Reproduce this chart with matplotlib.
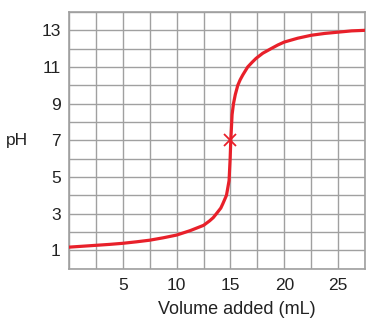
import matplotlib
matplotlib.use('Agg')
import matplotlib.pyplot as plt
import numpy as np

plt.rcParams['font.family'] = ['Liberation Sans', 'DejaVu Sans']

# titration curve
volume = [0, 1.25, 2.5, 3.75, 5, 6.25, 7.5, 8.75, 10, 11.25, 12.5, 13.05, 13.4,
          13.7, 14.1, 14.3, 14.63, 14.87, 14.97, 15.03, 15.15, 15.28, 15.45,
          15.68, 15.9, 16.14, 16.6, 17.0, 17.38, 18.0, 18.77, 19.4, 20, 21.25,
          22.5, 23.75, 25, 26.25, 27.5]
ph = [1.17, 1.22, 1.27, 1.32, 1.38, 1.46, 1.55, 1.68, 1.83, 2.07, 2.36, 2.6, 2.78,
      3.0, 3.3, 3.55, 4.0, 4.8, 6.0, 7.0, 8.4, 9.0, 9.5,
      10.0, 10.3, 10.56, 11.0, 11.25, 11.47, 11.75, 12.0, 12.2, 12.36, 12.57,
      12.73, 12.83, 12.9, 12.97, 13.0]
equiv_volume = [15]
equiv_ph = [7]

x_labels = [5, 10, 15, 20, 25]
y_labels = [1, 3, 5, 7, 9, 11, 13]

fig = plt.figure(figsize=(3.74, 3.19), dpi=100)
ax = fig.add_axes([0.1845, 0.158, 0.7915, 0.8044])

ax.plot(volume, ph, color='#e8202a', linewidth=2.3, solid_capstyle='round',
        solid_joinstyle='round', zorder=3)
ax.plot(equiv_volume, equiv_ph, marker='x', color='#e8202a', markersize=8,
        markeredgewidth=1.3, linestyle='none', zorder=4)

ax.set_xlim(0, 27.5)
ax.set_ylim(0, 14)
ax.set_xticks(x_labels)
ax.set_xticks(np.arange(0, 27.6, 2.5), minor=True)
ax.set_yticks(y_labels)
ax.set_yticks(np.arange(0, 14.1, 1), minor=True)
ax.grid(which='both', color='#a0a0a0', linewidth=1.0)
ax.set_axisbelow(True)
ax.tick_params(which='both', length=0, labelsize=12.5, colors='#222222')
ax.tick_params(axis='x', pad=7)
ax.tick_params(axis='y', pad=6)
for s in ax.spines.values():
    s.set_color('#a0a0a0')
    s.set_linewidth(1.2)

ax.set_xlabel('Volume added (mL)', fontsize=13, color='#222222', va='center')
ax.xaxis.set_label_coords(0.566, -0.158)
ax.set_ylabel('pH', fontsize=12.5, rotation=0, color='#222222', ha='center', va='center')
ax.yaxis.set_label_coords(-0.176, 0.5)

fig.savefig('out.png', dpi=100)
